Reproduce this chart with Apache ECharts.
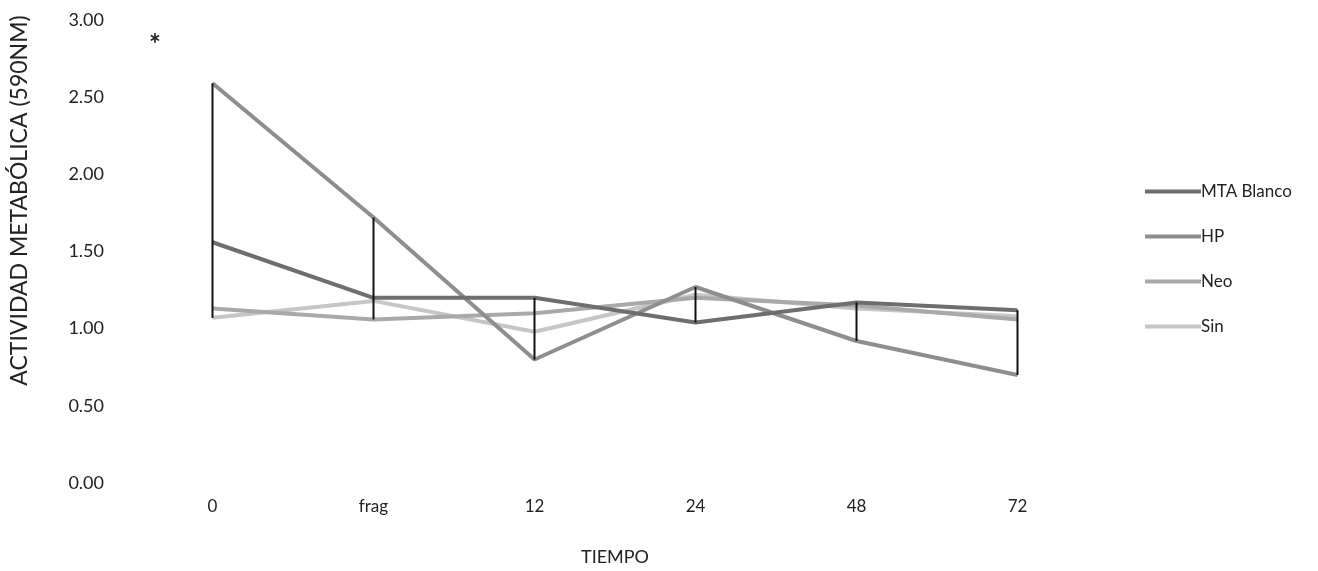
<!DOCTYPE html>
<html>
<head>
<meta charset="utf-8">
<script src="https://cdn.jsdelivr.net/npm/echarts@6/dist/echarts.min.js"></script>
<style>
html,body{margin:0;padding:0;background:#fff;}
#chart{width:1318px;height:571px;}
</style>
</head>
<body>
<div id="chart"></div>
<script>
const categories = ['0', 'frag', '12', '24', '48', '72'];
const mtaBlanco = [1.56, 1.20, 1.20, 1.04, 1.17, 1.12];
const hp        = [2.59, 1.72, 0.80, 1.27, 0.92, 0.70];
const neo       = [1.13, 1.06, 1.10, 1.20, 1.15, 1.06];
const sin       = [1.07, 1.18, 0.98, 1.22, 1.13, 1.08];
const yTicks = [0, 0.5, 1, 1.5, 2, 2.5, 3];

const allSeries = [mtaBlanco, hp, neo, sin];
const hiLo = categories.map((c, i) => {
  const vals = allSeries.map(s => s[i]);
  return [i, Math.min(...vals), Math.max(...vals)];
});

const FONT = 'Lato';
const chart = echarts.init(document.getElementById('chart'));
const lineSeries = (name, data, color, width, z) => ({
  name, type: 'line', data, symbol: 'none', z,
  lineStyle: { color, width },
  itemStyle: { color },
  emphasis: { disabled: true }
});

chart.setOption({
  animation: false,
  backgroundColor: '#ffffff',
  textStyle: { fontFamily: FONT },
  grid: { left: 129, right: 220, top: 20, bottom: 88 },
  legend: {
    orient: 'vertical',
    left: 1140, top: 178,
    itemWidth: 56, itemHeight: 4, itemGap: 28,
    icon: 'rect',
    textStyle: { fontFamily: FONT, fontSize: 17, color: '#222', padding: [0, 0, 0, -5] },
    data: ['MTA Blanco', 'HP', 'Neo', 'Sin']
  },
  xAxis: {
    type: 'category',
    data: categories,
    boundaryGap: true,
    axisLine: { show: false },
    axisTick: { show: false },
    axisLabel: { margin: 15, fontSize: 17, color: '#222', fontFamily: FONT },
    name: 'TIEMPO',
    nameLocation: 'middle',
    nameGap: 65,
    nameTextStyle: { fontSize: 18, color: '#222', fontFamily: FONT }
  },
  yAxis: {
    type: 'value',
    min: yTicks[0], max: yTicks[yTicks.length - 1], interval: 0.5,
    axisLine: { show: false },
    axisTick: { show: false },
    splitLine: { show: false },
    axisLabel: { margin: 28, fontSize: 18, color: '#222', fontFamily: FONT,
      formatter: v => v.toFixed(2) },
    name: 'ACTIVIDAD METABÓLICA (590NM)',
    nameLocation: 'middle',
    nameGap: 101,
    nameTextStyle: { fontSize: 23, color: '#222', fontFamily: FONT, padding: [0, 0, 0, 102] }
  },
  graphic: [{
    type: 'text', left: 149, top: 31,
    style: { text: '*', fontSize: 28, fontWeight: 'bold', fill: '#222', fontFamily: FONT }
  }],
  series: [
    {
      type: 'custom', z: 5,
      data: hiLo,
      encode: { x: 0, y: [1, 2] },
      renderItem: (params, api) => {
        const p1 = api.coord([api.value(0), api.value(1)]);
        const p2 = api.coord([api.value(0), api.value(2)]);
        return { type: 'line', shape: { x1: p1[0], y1: p1[1], x2: p2[0], y2: p2[1] },
          style: { stroke: '#111', lineWidth: 2 } };
      },
      silent: true
    },
    lineSeries('MTA Blanco', mtaBlanco, '#6e6e6e', 4, 4),
    lineSeries('HP', hp, '#8e8e8e', 4, 3),
    lineSeries('Neo', neo, '#a9a9a9', 4, 2),
    lineSeries('Sin', sin, '#c6c6c6', 4, 1)
  ]
});
</script>
</body>
</html>
